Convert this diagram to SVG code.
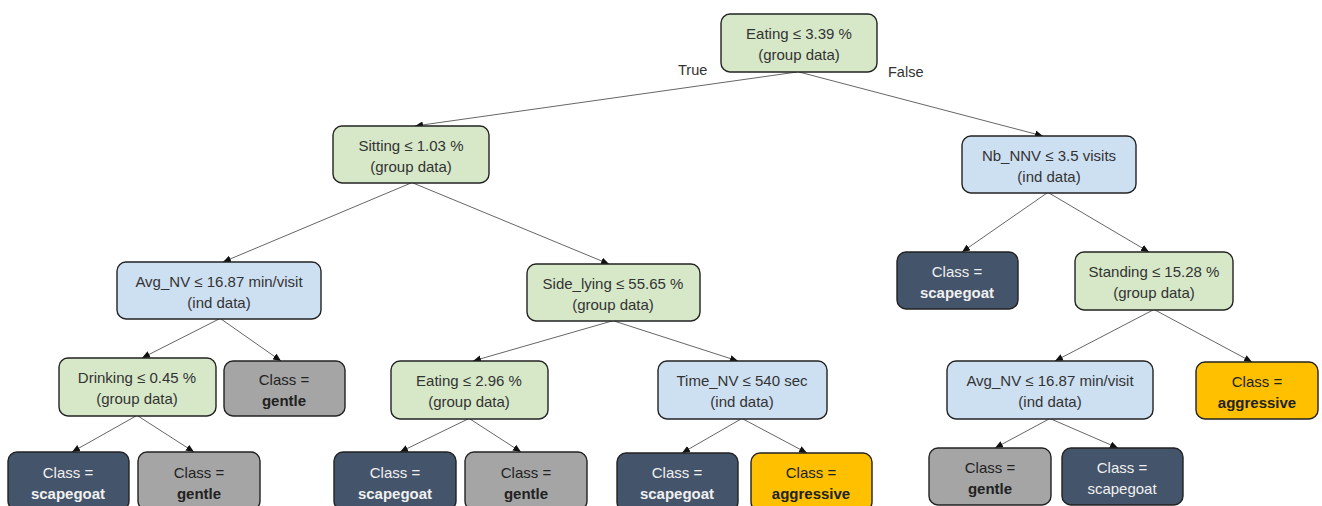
<svg xmlns="http://www.w3.org/2000/svg" width="1322" height="506" viewBox="0 0 1322 506">
<defs>
<style>
.n rect{stroke:#222;stroke-width:1.4}
.g rect{fill:#d6e8c8}
.b rect{fill:#cde0f2}
.d rect{fill:#44546a}
.y rect{fill:#ffc000}
.r rect{fill:#a5a5a5}
text{font-family:"Liberation Sans",Arial,sans-serif;font-size:15px;text-anchor:middle;fill:#333}
.d text{fill:#f0f0f0}
.r text,.y text{fill:#222}
.bold{font-weight:bold}
.lbl{text-anchor:start;font-size:14.5px}
#connectors line{stroke:#666;stroke-width:1;marker-end:url(#ah)}
</style>
<marker id="ah" viewBox="0 0 8 7" refX="8" refY="3.5" markerWidth="8" markerHeight="7" markerUnits="userSpaceOnUse" orient="auto">
<path d="M0,0 L8,3.5 L0,7 z" fill="#111"/>
</marker>
</defs>
<rect width="1322" height="506" fill="#fff"/>
<g id="connectors">
<line x1="797" y1="72" x2="415" y2="126"/>
<line x1="799" y1="72" x2="1043" y2="136"/>
<line x1="411" y1="183" x2="223" y2="262"/>
<line x1="413" y1="183" x2="609" y2="264"/>
<line x1="219" y1="319" x2="142" y2="358"/>
<line x1="221" y1="319" x2="281" y2="361"/>
<line x1="136" y1="416" x2="72" y2="452"/>
<line x1="138" y1="416" x2="194" y2="452"/>
<line x1="612" y1="321" x2="473" y2="361"/>
<line x1="614" y1="321" x2="738" y2="361"/>
<line x1="468" y1="419" x2="400" y2="452"/>
<line x1="470" y1="419" x2="521" y2="452"/>
<line x1="741" y1="419" x2="682" y2="453"/>
<line x1="743" y1="419" x2="807" y2="453"/>
<line x1="1047" y1="193" x2="962" y2="252"/>
<line x1="1049" y1="193" x2="1149" y2="252"/>
<line x1="1153" y1="310" x2="1055" y2="361"/>
<line x1="1155" y1="310" x2="1252" y2="362"/>
<line x1="1049" y1="419" x2="995" y2="448"/>
<line x1="1051" y1="419" x2="1118" y2="448"/>
</g>
<text class="lbl" x="678" y="75">True</text>
<text class="lbl" x="888" y="77">False</text>
<g id="root" class="n g"><rect x="721" y="14" width="156" height="58" rx="9"/><text x="799" y="38.5">Eating ≤ 3.39 %</text><text x="799" y="59.5">(group data)</text></g>
<g id="sitting" class="n g"><rect x="333" y="126" width="156" height="57" rx="9"/><text x="411" y="150.5">Sitting ≤ 1.03 %</text><text x="411" y="171.5">(group data)</text></g>
<g id="nbnnv" class="n b"><rect x="962" y="136" width="174" height="57" rx="9"/><text x="1049" y="160.5">Nb_NNV ≤ 3.5 visits</text><text x="1049" y="181.5">(ind data)</text></g>
<g id="avgnvL" class="n b"><rect x="117" y="262" width="204" height="57" rx="9"/><text x="219" y="286.5">Avg_NV ≤ 16.87 min/visit</text><text x="219" y="307.5">(ind data)</text></g>
<g id="sidelying" class="n g"><rect x="527" y="264" width="173" height="57" rx="9"/><text x="613" y="288.5">Side_lying ≤ 55.65 %</text><text x="613" y="309.5">(group data)</text></g>
<g id="scapegoatR1" class="n d"><rect x="897" y="252" width="121" height="57" rx="9"/><text x="957" y="276.5">Class =</text><text x="957" y="297.5" class="bold">scapegoat</text></g>
<g id="standing" class="n g"><rect x="1075" y="252" width="158" height="58" rx="9"/><text x="1154" y="276.5">Standing ≤ 15.28 %</text><text x="1154" y="297.5">(group data)</text></g>
<g id="drinking" class="n g"><rect x="59" y="358" width="157" height="58" rx="9"/><text x="137" y="382.5">Drinking ≤ 0.45 %</text><text x="137" y="403.5">(group data)</text></g>
<g id="gentleL1" class="n r"><rect x="224" y="361" width="121" height="55" rx="9"/><text x="284" y="384.5">Class =</text><text x="284" y="405.5" class="bold">gentle</text></g>
<g id="eating296" class="n g"><rect x="391" y="361" width="157" height="58" rx="9"/><text x="469" y="385.5">Eating ≤ 2.96 %</text><text x="469" y="406.5">(group data)</text></g>
<g id="timenv" class="n b"><rect x="658" y="361" width="169" height="58" rx="9"/><text x="742" y="385.5">Time_NV ≤ 540 sec</text><text x="742" y="406.5">(ind data)</text></g>
<g id="avgnvR" class="n b"><rect x="947" y="361" width="206" height="58" rx="9"/><text x="1050" y="385.5">Avg_NV ≤ 16.87 min/visit</text><text x="1050" y="406.5">(ind data)</text></g>
<g id="aggressiveR" class="n y"><rect x="1196" y="362" width="122" height="57" rx="9"/><text x="1257" y="386.5">Class =</text><text x="1257" y="407.5" class="bold">aggressive</text></g>
<g id="scapegoat1" class="n d"><rect x="8" y="452" width="121" height="58" rx="9"/><text x="68" y="477.5">Class =</text><text x="68" y="498.5" class="bold">scapegoat</text></g>
<g id="gentle1" class="n r"><rect x="138" y="452" width="122" height="58" rx="9"/><text x="199" y="477.5">Class =</text><text x="199" y="498.5" class="bold">gentle</text></g>
<g id="scapegoat2" class="n d"><rect x="334" y="452" width="122" height="58" rx="9"/><text x="395" y="477.5">Class =</text><text x="395" y="498.5" class="bold">scapegoat</text></g>
<g id="gentle2" class="n r"><rect x="465" y="452" width="122" height="58" rx="9"/><text x="526" y="477.5">Class =</text><text x="526" y="498.5" class="bold">gentle</text></g>
<g id="scapegoat3" class="n d"><rect x="617" y="453" width="121" height="58" rx="9"/><text x="677" y="477.5">Class =</text><text x="677" y="498.5" class="bold">scapegoat</text></g>
<g id="aggressive1" class="n y"><rect x="751" y="453" width="121" height="58" rx="9"/><text x="811" y="477.5">Class =</text><text x="811" y="498.5" class="bold">aggressive</text></g>
<g id="gentleR" class="n r"><rect x="929" y="448" width="122" height="57" rx="9"/><text x="990" y="472.5">Class =</text><text x="990" y="493.5" class="bold">gentle</text></g>
<g id="scapegoatR2" class="n d"><rect x="1062" y="448" width="121" height="57" rx="9"/><text x="1122" y="472.5">Class =</text><text x="1122" y="493.5">scapegoat</text></g>
</svg>
